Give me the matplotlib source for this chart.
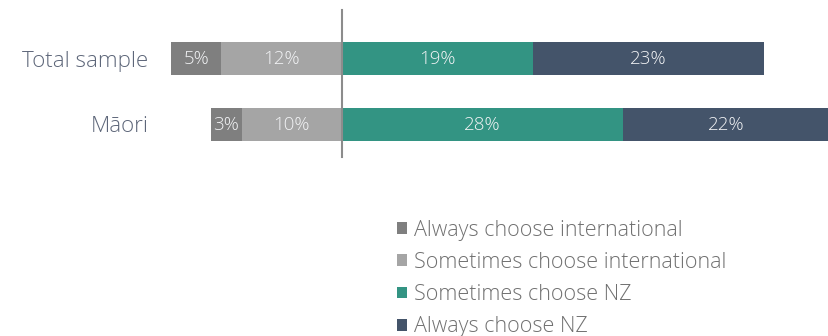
import numpy as np
import matplotlib
matplotlib.use('Agg')
import matplotlib.pyplot as plt
from matplotlib.patches import Patch

matplotlib.rcParams['font.family'] = ['Open Sans', 'DejaVu Sans']
matplotlib.rcParams['font.weight'] = 'light'

# Survey shares (%) per group
groups = ['Total sample', 'Māori']
always_intl = [5, 3]
sometimes_intl = [12, 10]
sometimes_nz = [19, 28]
always_nz = [23, 22]

series_names = ['Always choose international', 'Sometimes choose international',
                'Sometimes choose NZ', 'Always choose NZ']
colors = ['#7f7f7f', '#a5a5a5', '#339483', '#44546a']

W, H = 829, 336
fig = plt.figure(figsize=(W / 100, H / 100), dpi=100)

# axes box in pixels: left 160, top 0, right 829, bottom 170
ax = fig.add_axes([160 / W, (H - 170) / H, (W - 160) / W, 170 / H])

px = 10.05  # pixels per percent
ax.set_xlim(-(342 - 160) / px, (829 - 342) / px)
ax.set_ylim(1 + (170 - 124.5) / 66, -58.5 / 66)

y = np.arange(len(groups))
h = 0.5
si = -np.array(sometimes_intl)
ai = -np.array(always_intl)
sn = np.array(sometimes_nz)
an = np.array(always_nz)

bars = [
    ax.barh(y, ai, left=si, height=h, color=colors[0]),
    ax.barh(y, si, height=h, color=colors[1]),
    ax.barh(y, sn, height=h, color=colors[2]),
    ax.barh(y, an, left=sn, height=h, color=colors[3]),
]
for b in bars:
    ax.bar_label(b, labels=[f'{abs(v):g}%' for v in b.datavalues], label_type='center',
                 color='#f2f3f5', fontsize=13.5)

ax.plot([0, 0], [-0.735, 1.49], color='#8c8c8c', lw=1.5, zorder=3)

ax.set_yticks(y)
ax.set_yticklabels(groups, fontsize=16, color='#5d6679')
ax.tick_params(axis='y', length=0, pad=8.5)
ax.set_xticks([])
for s in ax.spines.values():
    s.set_visible(False)

handles = [Patch(facecolor=c, edgecolor='none') for c in colors]
fig.legend(handles, series_names, loc='upper left', bbox_to_anchor=(386 / W, 1 - 209 / H),
           frameon=False, fontsize=15.5, labelcolor='#707070', handlelength=0.48,
           handleheight=0.48, handletextpad=0.3, labelspacing=0.52, borderpad=0)

fig.savefig('out.png', dpi=100)
